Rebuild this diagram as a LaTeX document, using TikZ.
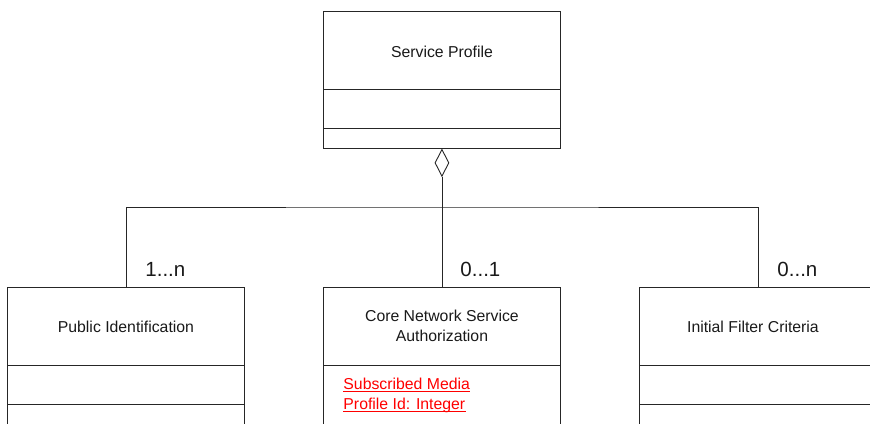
\documentclass[tikz,border=0pt]{standalone}
\usepackage{fontspec}
\setmainfont{Liberation Sans}
\usetikzlibrary{shapes.geometric}
\begin{document}
\begin{tikzpicture}[x=1pt,y=-1pt, line width=0.9pt,
  classbox/.style={draw=black!85, minimum width=237pt, minimum height=137pt, inner sep=0pt, anchor=north west},
  divider/.style={draw=black!85},
  title/.style={font=\fontsize{15.8}{20}\selectfont, text=black!90, align=center, anchor=base},
  mult/.style={font=\fontsize{20.5}{24}\selectfont, text=black!90, anchor=base west, inner sep=0pt},
  attr/.style={font=\fontsize{15.8}{20}\selectfont, text=red, anchor=base west, inner sep=0pt},
  uline/.style={draw=red, line width=1.4pt},
  link/.style={draw=black!85}]
\clip (0,0) rectangle (870,423);

% classes
\node[classbox] (sp)  at (323,11)  {};
\node[classbox] (pub) at (7,287)   {};
\node[classbox] (cns) at (323,287) {};
\node[classbox] (ifc) at (639,287) {};

\foreach \b in {sp,pub,cns,ifc}{
  \draw[divider] ([yshift=-78pt]\b.north west) -- ([yshift=-78pt]\b.north east);
}
\foreach \b in {sp,pub,ifc}{
  \draw[divider] ([yshift=-117pt]\b.north west) -- ([yshift=-117pt]\b.north east);
}

% titles
\node[title] (spt)  at ([yshift=-46pt]sp.north)  {Service Profile};
\node[title] (pubt) at ([yshift=-45pt]pub.north) {Public Identification};
\node[title] (cnst) at ([yshift=-54pt]cns.north) {Core Network Service\\Authorization};
\node[title] (ifct) at ([xshift=-5pt,yshift=-45pt]ifc.north) {Initial Filter Criteria};

% attributes
\node[attr] (a1) at (343,389) {Subscribed Media};
\node[attr] (a2) at (343,409) {Profile Id: Integer};
\draw[uline] ([yshift=-2.5pt]a1.base west) -- ([yshift=-2.5pt]a1.base east);
\draw[uline] ([yshift=-2.5pt]a2.base west) -- ([yshift=-2.5pt]a2.base east);

% aggregation
\node[draw=black!85, diamond, minimum width=14pt, minimum height=27pt, inner sep=0pt, anchor=north, fill=white] (dia) at (sp.south) {};
\coordinate (j) at (cns.north |- 0,207);
\draw[link] (dia.south) -- (cns.north);
\draw[link] (pub.north) |- (j) -| (ifc.north);

% multiplicities
\node[mult] (m1) at (145,276) {1...n};
\node[mult] (m2) at (460,276) {0...1};
\node[mult] (m3) at (777,276) {0...n};
\end{tikzpicture}
\end{document}
